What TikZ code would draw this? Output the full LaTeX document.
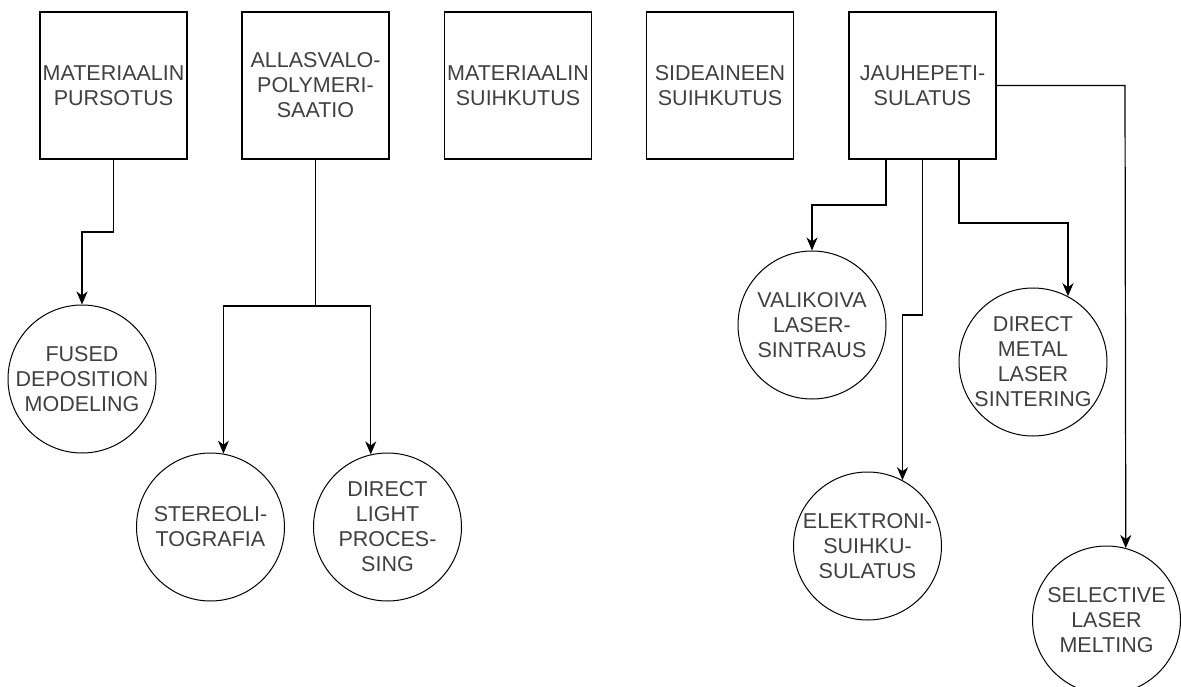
\documentclass[tikz,border=0pt]{standalone}
\usepackage{fontspec}
\setmainfont{Liberation Sans}
\usetikzlibrary{arrows.meta}
\begin{document}
\begin{tikzpicture}[x=1pt,y=-1pt,
  lbl/.style={font=\fontsize{21.5}{25}\selectfont, text=black!75, align=center, inner sep=0pt},
  boxnode/.style={lbl, draw=black, line width=1.2pt, minimum width=147pt, minimum height=147pt},
  circnode/.style={lbl, draw=black, circle, line width=1pt, minimum size=148pt},
  link/.style={draw=black, line width=1.2pt},
  arr/.style={link, -{Stealth[length=13pt,width=11pt,inset=4pt]}}]
\useasboundingbox (0,0) rectangle (1181,687);

% process category boxes
\node[boxnode] (b1) at (113.5,85.5) {MATERIAALIN\\PURSOTUS};
\node[boxnode] (b2) at (315.5,85.5) {ALLASVALO-\\POLYMERI-\\SAATIO};
\node[boxnode] (b3) at (518,85.5) {MATERIAALIN\\SUIHKUTUS};
\node[boxnode] (b4) at (720,85.5) {SIDEAINEEN\\SUIHKUTUS};
\node[boxnode] (b5) at (922.5,85.5) {JAUHEPETI-\\SULATUS};

% technology circles
\node[circnode] (c1) at (82,379) {FUSED\\DEPOSITION\\MODELING};
\node[circnode] (c2) at (210.5,527) {STEREOLI-\\TOGRAFIA};
\node[circnode] (c3) at (387.5,527) {DIRECT\\LIGHT\\PROCES-\\SING};
\node[circnode] (c4) at (812,325) {VALIKOIVA\\LASER-\\SINTRAUS};
\node[circnode] (c5) at (867.5,546) {ELEKTRONI-\\SUIHKU-\\SULATUS};
\node[circnode] (c6) at (1033,362) {DIRECT\\METAL\\LASER\\SINTERING};
\node[circnode] (c7) at (1106.5,620) {SELECTIVE\\LASER\\MELTING};

% junction points
\coordinate (j1) at (113.5,232);
\coordinate (j2) at (315.5,306);
\coordinate (s4) at (886,159);
\coordinate (s6) at (959,159);
\coordinate (j4) at (886,205);
\coordinate (j5) at (922.5,315);
\coordinate (j6) at (959,223);
\coordinate (j7) at (1125,85.5);

% connectors
\draw[arr] (b1.south) -- (j1) -| (c1.north);
\draw[link] (b2.south) -- (j2);
\draw[arr] (j2) -| (c2.80);
\draw[arr] (j2) -| (c3.103);
\draw[arr] (s4) -- (j4) -| (c4.north);
\draw[arr] (b5.south) -- (j5) -| (c5.62);
\draw[arr] (s6) -- (j6) -| (c6.62);
\draw[arr] (b5.east) -- (j7) -- (c7.75.5);
\end{tikzpicture}
\end{document}
